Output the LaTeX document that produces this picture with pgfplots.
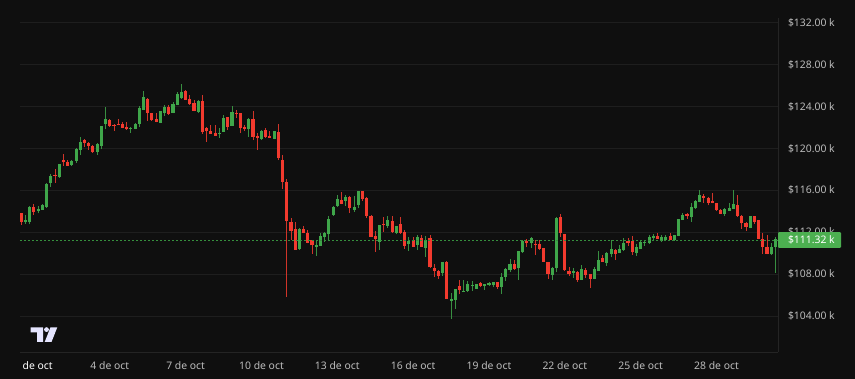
\documentclass[border=0pt]{standalone}
\usepackage{pgfplots}
\usepackage{pgfplotstable}
\usepackage{fontspec}
\setmainfont{Noto Sans}
\pgfplotsset{compat=1.18}
\definecolor{bg}{HTML}{0F0F0F}
\definecolor{gridc}{HTML}{1E1E1E}
\definecolor{axc}{HTML}{242424}
\definecolor{up}{HTML}{3FA64A}
\definecolor{down}{HTML}{F23A2E}
\definecolor{lab}{HTML}{BBBBBB}
\definecolor{tag}{HTML}{4CAF50}
\definecolor{dot}{HTML}{358F3D}
\pgfplotstableread{
x o h l c
1 112.95 113.64 112.78 113.14
2 112.97 114.50 112.75 114.43
4 114.02 114.50 113.80 114.22
5 114.12 114.69 114.12 114.57
6 114.43 116.67 114.34 116.60
7 116.67 117.56 116.34 117.37
9 117.30 118.53 117.20 118.48
12 118.44 118.89 118.32 118.83
13 118.80 120.01 118.64 119.94
14 119.85 121.09 119.40 120.61
18 119.66 120.55 119.40 120.42
19 120.26 122.14 119.94 122.11
20 122.30 123.92 121.82 122.81
26 121.92 122.01 121.47 121.98
27 121.88 122.40 121.82 122.33
28 122.33 124.05 122.07 123.89
29 123.70 125.48 123.67 124.91
33 122.45 123.60 122.40 123.54
34 123.35 124.14 123.09 123.95
36 123.38 124.40 123.35 124.24
37 124.14 125.36 124.12 125.19
38 124.78 126.15 124.72 125.36
42 123.52 124.62 123.38 124.55
47 121.35 121.95 121.02 121.47
48 121.57 123.19 121.57 122.87
50 122.14 124.05 122.14 123.45
54 121.82 122.87 121.12 122.81
57 120.87 121.76 120.80 121.66
60 120.90 121.69 120.87 121.66
66 110.37 112.37 110.30 112.28
70 110.62 111.26 109.73 110.78
71 110.68 111.95 110.68 111.64
72 111.51 112.05 111.09 111.90
73 111.80 113.52 111.26 113.26
74 113.64 114.50 113.55 114.41
75 114.50 115.55 114.43 115.14
77 114.98 115.55 114.50 115.33
79 114.12 115.46 113.93 114.43
80 114.60 115.93 114.28 115.90
85 111.09 112.69 110.30 112.66
87 112.59 113.52 112.40 113.17
89 111.90 112.62 111.80 112.59
92 110.87 111.57 110.23 111.19
94 110.78 111.73 110.33 111.54
96 110.49 111.64 109.63 111.26
100 108.11 109.16 107.82 109.13
102 105.46 106.20 103.71 105.62
103 105.53 106.58 104.67 106.58
105 106.32 107.44 106.32 106.39
106 106.39 107.34 106.32 107.06
107 106.84 107.34 106.42 106.96
108 106.58 107.08 106.55 107.03
110 106.86 107.06 106.48 107.06
111 106.99 107.25 106.86 107.15
112 106.93 107.25 106.74 107.25
114 106.77 108.08 106.13 107.72
115 107.72 108.55 107.34 108.49
116 108.39 109.47 108.20 108.96
118 108.55 110.21 107.44 110.18
119 110.08 111.28 110.01 111.16
121 110.94 111.54 110.46 111.45
126 107.91 108.68 107.44 108.58
127 108.55 113.45 108.20 113.38
131 108.11 108.61 107.60 108.30
133 107.44 108.87 107.44 108.46
136 107.53 108.68 107.50 108.52
137 108.32 110.18 108.32 109.35
139 109.06 110.11 108.77 110.04
140 109.89 111.26 109.60 110.37
142 109.99 110.75 109.99 110.43
143 110.33 111.42 110.23 110.97
146 109.99 110.87 109.73 110.62
147 110.43 111.13 110.37 111.06
148 110.94 111.26 110.71 111.06
149 110.94 111.73 110.87 111.54
150 111.42 111.83 111.26 111.64
152 111.19 111.73 111.06 111.57
153 111.26 111.70 111.19 111.54
155 111.23 111.76 111.16 111.73
156 111.67 113.26 111.64 113.23
157 113.19 113.80 113.17 113.61
159 113.42 114.76 113.00 114.43
160 114.28 115.07 114.22 114.95
161 114.88 116.00 114.85 115.55
167 113.74 114.31 113.55 114.22
168 114.05 114.76 114.00 114.31
169 114.24 116.03 114.19 114.69
173 112.43 113.58 112.37 113.52
178 109.89 110.94 109.82 110.56
179 110.56 111.57 108.13 111.32
}\upcandles
\pgfplotstableread{
x o h l c
0 113.80 113.86 112.69 112.97
3 114.43 114.69 113.64 113.93
8 117.49 117.99 116.74 117.39
10 118.92 119.47 118.32 118.67
11 118.73 118.89 118.32 118.35
15 120.83 120.90 120.11 120.52
16 120.52 120.58 119.85 120.23
17 120.26 120.33 119.59 119.66
21 122.68 122.78 122.07 122.14
22 122.26 122.33 121.66 122.21
23 122.30 122.78 122.23 122.23
24 122.36 122.55 121.92 121.98
25 122.04 122.52 121.76 121.82
30 124.75 124.81 122.62 123.41
31 123.35 123.41 122.65 122.71
32 122.84 123.41 122.49 122.55
35 123.92 124.12 123.22 123.28
39 125.48 125.55 124.62 124.65
40 124.75 125.07 124.14 124.21
41 124.34 124.62 123.54 123.60
43 124.50 125.10 121.38 121.57
44 121.92 122.07 120.61 121.66
45 121.66 122.23 121.35 121.38
46 121.50 122.23 121.18 121.21
49 122.97 123.03 121.76 122.07
51 123.38 123.67 122.93 123.28
52 123.38 123.41 121.47 121.92
53 122.04 122.23 121.66 121.88
55 122.78 123.54 120.80 121.12
56 121.21 121.44 119.85 120.97
58 121.79 121.98 120.97 121.12
59 121.21 121.69 120.97 121.02
61 121.57 122.33 118.89 119.06
62 118.89 119.34 116.12 116.82
63 116.79 117.08 105.81 113.10
64 112.97 113.33 111.26 112.11
65 112.28 112.97 110.30 110.30
67 112.31 112.59 111.90 111.90
68 111.95 112.21 110.94 111.00
69 111.23 111.26 109.92 110.75
76 115.05 115.81 114.66 114.69
78 115.33 115.46 113.83 114.34
81 115.90 115.93 114.98 115.17
82 115.27 115.39 113.36 113.55
83 113.58 113.61 111.54 111.54
84 111.64 112.11 110.14 111.35
86 112.78 113.45 112.02 112.69
88 113.10 113.55 111.90 112.02
90 112.75 113.45 111.83 111.90
91 112.02 112.21 110.43 110.68
93 111.28 111.51 110.59 110.59
95 111.48 111.73 110.56 110.59
97 111.45 111.73 108.61 108.65
98 108.55 108.96 107.75 108.30
99 108.30 108.39 107.56 107.85
101 109.16 109.25 105.62 105.62
104 106.84 107.44 106.07 106.48
109 107.15 107.25 106.74 106.86
113 107.25 107.25 106.58 106.77
117 108.96 109.35 108.39 108.52
120 111.16 111.35 110.56 110.94
122 110.87 111.23 109.82 110.81
123 110.87 111.26 110.30 110.43
124 110.49 110.49 109.16 109.16
125 109.16 109.16 107.53 108.01
128 113.45 113.77 111.54 111.90
129 111.80 111.83 108.32 108.36
130 108.30 108.65 107.82 108.01
132 108.20 108.32 107.27 107.41
134 108.39 108.58 107.60 107.91
135 108.01 108.01 106.67 107.53
138 109.54 109.82 109.16 109.16
141 110.27 110.37 109.35 109.92
144 111.19 111.42 110.71 110.94
145 111.13 111.64 109.82 110.08
151 111.67 111.90 111.32 111.35
154 111.64 111.90 111.23 111.23
158 113.71 113.80 113.26 113.58
162 115.48 115.65 114.82 115.29
163 115.29 115.39 114.57 114.82
164 115.01 115.71 114.76 114.82
165 114.76 114.82 114.02 114.12
166 114.12 114.19 113.71 113.74
170 114.63 115.55 113.48 113.58
171 113.55 113.61 112.31 112.85
172 112.88 112.95 112.11 112.53
174 113.52 113.58 112.78 113.00
175 113.14 113.19 111.32 111.35
176 111.32 111.90 109.92 110.62
177 110.59 111.73 109.89 109.92
}\downcandles
\begin{document}
\begin{tikzpicture}[x=1pt,y=1pt]
\useasboundingbox (0,0) rectangle (855,379);
\fill[bg] (0,0) rectangle (855,379);
\begin{axis}[
  at={(20pt,26.7pt)}, anchor=south west,
  scale only axis, width=758pt, height=334.3pt,
  xmin=-0.31, xmax=179.6, ymin=100.53, ymax=132.45,
  axis x line=bottom, axis y line=right,
  axis line style={draw=axc,line width=0.8pt,-},
  ymajorgrids, grid style={draw=gridc,line width=0.8pt},
  xtick={3.9,21,39,57,75,93,111,129,147,165},
  xticklabels={\textbf{\textcolor{white}{de oct}},4 de oct,7 de oct,10 de oct,13 de oct,16 de oct,19 de oct,22 de oct,25 de oct,28 de oct},
  ytick={104,108,112,116,120,124,128,132},
  yticklabels={\$104.00 k,\$108.00 k,\$112.00 k,\$116.00 k,\$120.00 k,\$124.00 k,\$128.00 k,\$132.00 k},
  tick style={draw=none}, major tick length=0pt,
  tick label style={font=\fontsize{10.4}{12}\selectfont,text=lab},
  yticklabel style={anchor=west,xshift=6.5pt},
  xticklabel style={anchor=center,yshift=-13.3pt},
  clip=true,
]
\addplot[draw=none,forget plot,error bars/.cd,y dir=plus,y explicit,error mark=none,error bar style={draw=up!85!bg,line width=0.9pt}]
  table[x=x,y=l,y error plus expr=\thisrow{h}-\thisrow{l}] {\upcandles};
\addplot[draw=none,forget plot,error bars/.cd,y dir=plus,y explicit,error mark=none,error bar style={draw=down!85!bg,line width=0.9pt}]
  table[x=x,y=l,y error plus expr=\thisrow{h}-\thisrow{l}] {\downcandles};
\addplot[draw=none,forget plot,error bars/.cd,y dir=plus,y explicit,error mark=none,error bar style={draw=up,line width=3.1pt}]
  table[x=x,y=o,y error plus expr=\thisrow{c}-\thisrow{o}] {\upcandles};
\addplot[draw=none,forget plot,error bars/.cd,y dir=plus,y explicit,error mark=none,error bar style={draw=down,line width=3.1pt}]
  table[x=x,y=c,y error plus expr=\thisrow{o}-\thisrow{c}] {\downcandles};
\addplot[draw=dot,line width=1pt,dash pattern=on 2pt off 2pt] coordinates {(-0.31,111.25)(179.6,111.25)};
\end{axis}
% current price tag
\fill[tag,rounded corners=1pt] (778,131) rectangle (841,146.8);
\node[anchor=west,text=white,font=\fontsize{10.4}{12}\selectfont,inner sep=0pt] at (787.8,138.8) {\$111.32 k};
% logo
\fill[white!90!blue] (30.7,51.7) -- (43,51.7) -- (43,37) -- (37,37) -- (37,46.5) -- (30.7,46.5) -- cycle;
\fill[white!90!blue] (46.5,49.4) circle (2.4);
\fill[white!90!blue] (50.5,51.7) -- (57.3,51.7) -- (51.5,37) -- (44.7,37) -- cycle;
\end{tikzpicture}
\end{document}
